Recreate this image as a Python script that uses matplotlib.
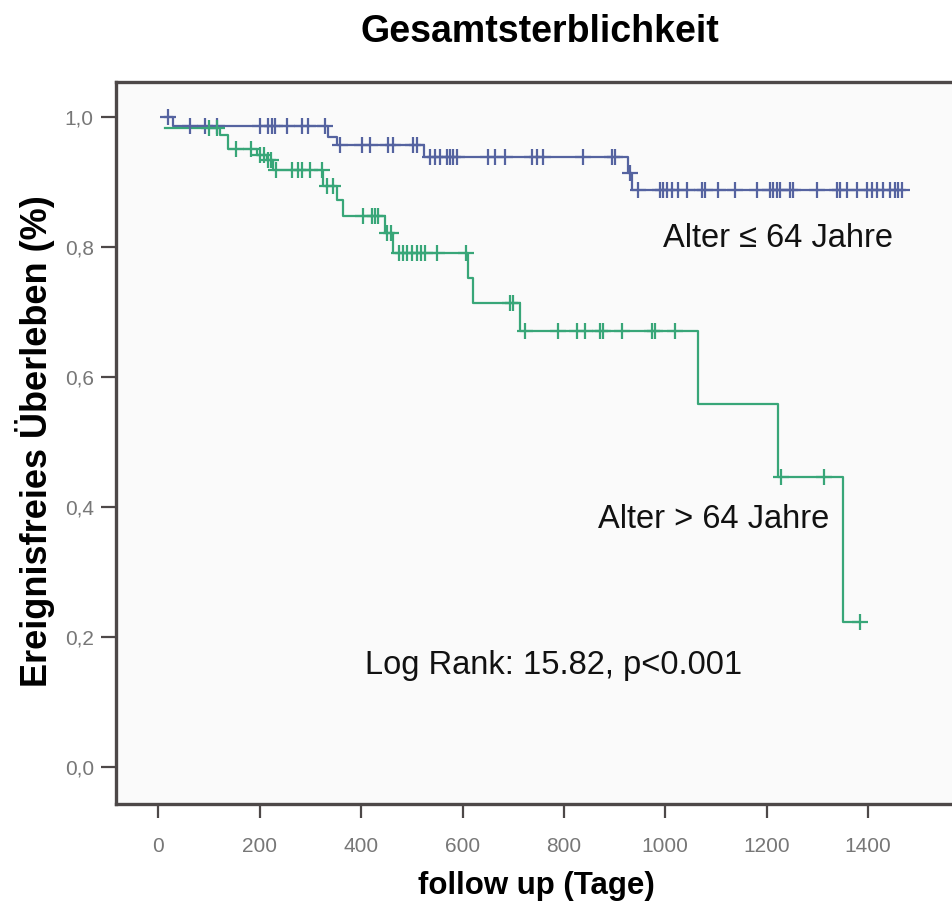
# Kaplan-Meier Gesamtsterblichkeit nach Altersgruppe
import numpy as np
import matplotlib
matplotlib.use('Agg')
import matplotlib.pyplot as plt

# Alter <= 64 Jahre: Stufen (Tag, Ueberleben ab diesem Tag)
young_days = [13, 29, 335, 352, 525, 926, 935]
young_surv = [1.0, 0.986, 0.969, 0.957, 0.938, 0.913, 0.887]
young_end = 1467
young_censored = [20, 62, 92, 115, 201, 216, 224, 231, 253, 283, 296, 329,
                  358, 402, 418, 453, 463, 502, 510, 536, 546, 556, 569, 575,
                  581, 589, 650, 664, 684, 737, 747, 759, 838, 895, 901, 930,
                  946, 989, 995, 1003, 1013, 1025, 1043, 1072, 1078, 1104,
                  1137, 1181, 1206, 1212, 1220, 1226, 1246, 1252, 1300, 1339,
                  1345, 1359, 1378, 1398, 1408, 1418, 1429, 1443, 1453, 1459,
                  1467]

# Alter > 64 Jahre
old_days = [13, 122, 138, 194, 214, 227, 325, 352, 365, 447, 463, 611, 620,
            713, 1065, 1223, 1350]
old_surv = [0.983, 0.972, 0.951, 0.941, 0.933, 0.918, 0.893, 0.872, 0.847,
            0.821, 0.791, 0.752, 0.713, 0.670, 0.558, 0.446, 0.223]
old_end = 1384
old_censored = [100, 115, 153, 182, 200, 208, 216, 222, 233, 263, 276, 283,
                299, 322, 332, 345, 404, 421, 428, 434, 451, 458, 474, 482,
                490, 500, 510, 518, 526, 549, 607, 694, 700, 723, 789, 825,
                842, 871, 878, 914, 973, 980, 1019, 1229, 1313, 1384]

x_ticks = [0, 200, 400, 600, 800, 1000, 1200, 1400]
y_ticks = [0.0, 0.2, 0.4, 0.6, 0.8, 1.0]
y_ticklabels = ['0,0', '0,2', '0,4', '0,6', '0,8', '1,0']

BLUE = '#5563a0'
GREEN = '#38a678'
FRAME = '#4d4848'
TXT = '#111111'

plt.rcParams['font.family'] = ['Liberation Sans', 'DejaVu Sans']

W, H = 952, 914
fig = plt.figure(figsize=(W / 100, H / 100), dpi=100)

# pixel geometry
px_per_day = 0.507
x0_px = 158.3
left_px, bottom_px, top_px = 116, 804, 82
xmin = (left_px - x0_px) / px_per_day
xmax = 1610
ax_w = (xmax - xmin) * px_per_day
ax = fig.add_axes([left_px / W, 1 - bottom_px / H, ax_w / W,
                   (bottom_px - top_px) / H])
ax.set_facecolor('#fafafa')


def draw_km(days, surv, end, censored, color):
    xs = list(days) + [end]
    ys = list(surv) + [surv[-1]]
    ax.step(xs, ys, where='post', color=color, lw=1.6, zorder=3)
    idx = np.searchsorted(days, censored, side='right') - 1
    cy = np.array(surv)[idx]
    ax.plot(censored, cy, ls='none', marker='+', ms=12, mew=1.6,
            color=color, zorder=4)


draw_km(young_days, young_surv, young_end, young_censored, BLUE)
draw_km(old_days, old_surv, old_end, old_censored, GREEN)

ax.set_xlim(xmin, xmax)
ax.set_ylim((766.7 - bottom_px) / 650, (766.7 - top_px) / 650)

for s in ax.spines.values():
    s.set_color(FRAME)
    s.set_linewidth(2.4)

ax.set_xticks(x_ticks)
ax.set_xticklabels([str(t) for t in x_ticks])
ax.set_yticks(y_ticks)
ax.set_yticklabels(y_ticklabels)
ax.tick_params(axis='x', length=10, width=1.6, color=FRAME, pad=14,
               labelsize=15, labelcolor='#777777')
ax.tick_params(axis='y', length=11, width=1.6, color=FRAME, pad=5,
               labelsize=15, labelcolor='#777777')

ax.text(1223, 0.813, 'Alter \u2264 64 Jahre', fontsize=23.5, ha='center',
        va='center', color=TXT)
ax.text(1095, 0.380, 'Alter > 64 Jahre', fontsize=23.5, ha='center',
        va='center', color=TXT)
ax.text(779, 0.156, 'Log Rank: 15.82, p<0.001', fontsize=23.5, ha='center',
        va='center', color=TXT)

fig.text(540 / W, 1 - 32 / H, 'Gesamtsterblichkeit', fontsize=27,
         fontweight='bold', ha='center', va='center')
fig.text(536 / W, 1 - 886 / H, 'follow up (Tage)', fontsize=22.5,
         fontweight='bold', ha='center', va='center')
fig.text(35 / W, 1 - 441 / H, 'Ereignisfreies \u00dcberleben (%)', fontsize=26,
         fontweight='bold', ha='center', va='center', rotation=90)

fig.savefig('out.png', dpi=100)
